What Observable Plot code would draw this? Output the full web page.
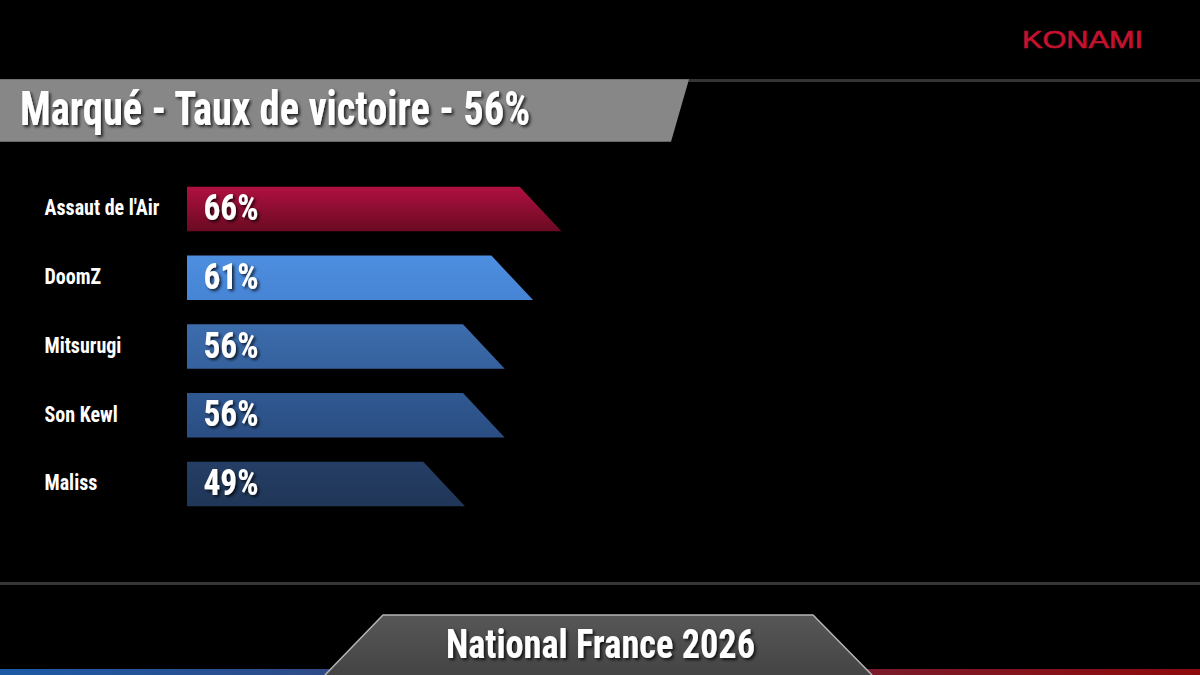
<!DOCTYPE html>
<html>
<head>
<meta charset="utf-8">
<script src="https://cdn.jsdelivr.net/npm/d3@7"></script>
<script src="https://cdn.jsdelivr.net/npm/@observablehq/plot@0.6"></script>
<style>
  html, body { margin: 0; padding: 0; background: #000; }
  #stage { position: relative; width: 1200px; height: 675px; overflow: hidden; background: #000; }
  #deco { position: absolute; left: 0; top: 0; }
  #chart { position: absolute; left: 0; top: 150px; }
  .cond { font-family: "Roboto Condensed", "Roboto", "DejaVu Sans Condensed", sans-serif; font-weight: 700; }
</style>
</head>
<body>
<div id="stage">
  <svg id="deco" width="1200" height="675" viewBox="0 0 1200 675">
    <defs>
      <linearGradient id="bar0" x1="0" y1="0" x2="0" y2="1">
        <stop offset="0" stop-color="#b01040"/>
        <stop offset="1" stop-color="#6a0a22"/>
      </linearGradient>
      <linearGradient id="bar1" x1="0" y1="0" x2="0" y2="1">
        <stop offset="0" stop-color="#4e8ee0"/>
        <stop offset="1" stop-color="#4684d4"/>
      </linearGradient>
      <linearGradient id="bar2" x1="0" y1="0" x2="0" y2="1">
        <stop offset="0" stop-color="#3d6cad"/>
        <stop offset="1" stop-color="#35629e"/>
      </linearGradient>
      <linearGradient id="bar3" x1="0" y1="0" x2="0" y2="1">
        <stop offset="0" stop-color="#305892"/>
        <stop offset="1" stop-color="#2a4e83"/>
      </linearGradient>
      <linearGradient id="bar4" x1="0" y1="0" x2="0" y2="1">
        <stop offset="0" stop-color="#253e65"/>
        <stop offset="1" stop-color="#203658"/>
      </linearGradient>
      <linearGradient id="footFill" x1="0" y1="0" x2="0" y2="1">
        <stop offset="0" stop-color="#575757"/>
        <stop offset="1" stop-color="#444444"/>
      </linearGradient>
      <linearGradient id="stripBlue" x1="0" y1="0" x2="1" y2="0">
        <stop offset="0" stop-color="#1c5aa6"/>
        <stop offset="1" stop-color="#2f4a86"/>
      </linearGradient>
      <linearGradient id="stripRed" x1="0" y1="0" x2="1" y2="0">
        <stop offset="0" stop-color="#7a1c2c"/>
        <stop offset="1" stop-color="#8e0a0c"/>
      </linearGradient>
      <filter id="shadow" x="-10%" y="-20%" width="130%" height="160%">
        <feDropShadow dx="2" dy="2" stdDeviation="1.5" flood-color="#000" flood-opacity="0.75"/>
      </filter>
    </defs>
    <!-- top separator -->
    <rect x="0" y="79" width="1200" height="3" fill="#343434"/>
    <!-- title banner -->
    <polygon points="0,79.3 689,79.3 671,141.7 0,141.7" fill="#878787"/>
    <text id="titleText" class="cond" x="20" y="125" font-size="49" fill="#fff" filter="url(#shadow)" textLength="510" lengthAdjust="spacingAndGlyphs"></text>
    <!-- logo -->
    <text id="brandText" x="1022" y="47.5" font-family="'Liberation Sans', 'DejaVu Sans', sans-serif" font-size="24" fill="#c4122f" stroke="#c4122f" stroke-width="0.6" textLength="121" lengthAdjust="spacingAndGlyphs"></text>
    <!-- bottom separator -->
    <rect x="0" y="582" width="1200" height="3" fill="#363636"/>
    <!-- bottom strips -->
    <rect x="0" y="669" width="340" height="6" fill="url(#stripBlue)"/>
    <rect x="860" y="669" width="340" height="6" fill="url(#stripRed)"/>
    <!-- footer banner -->
    <polygon points="383,615 813,615 872,675 325,675" fill="url(#footFill)"/>
    <polyline points="325,675 383,615 813,615 872,675" fill="none" stroke="#b5b5b5" stroke-width="1.5"/>
    <text id="footText" class="cond" x="600.5" y="658" text-anchor="middle" font-size="41" fill="#fff" filter="url(#shadow)" textLength="309" lengthAdjust="spacingAndGlyphs"></text>
  </svg>
  <div id="chart"></div>
</div>
<script>
// ---- data ----
const players = ["Assaut de l'Air", "DoomZ", "Mitsurugi", "Son Kewl", "Maliss"];
const winRates = [66, 61, 56, 56, 49];
const barFills = ["url(#bar0)", "url(#bar1)", "url(#bar2)", "url(#bar3)", "url(#bar4)"];
const chartTitle = "Marqué - Taux de victoire - 56%";
const eventName = "National France 2026";
const brand = "KONAMI";

document.getElementById("titleText").textContent = chartTitle;
document.getElementById("footText").textContent = eventName;
document.getElementById("brandText").textContent = brand;

const rows = players.map((name, i) => ({ name, value: winRates[i], i, fill: barFills[i] }));

// bar shape: flat top ending earlier, slanted right edge reaching the value at the bottom
const half = 0.323;     // half bar thickness (row units)
const slant = 7.35;     // horizontal run of the slanted edge (x units)
const shape = r => [
  { y: r.i - half, x2: r.value - slant },
  { y: r.i + half, x2: r.value }
];

const pxPerUnit = 5.673;
const chart = Plot.plot({
  width: 1200,
  height: 390,
  marginLeft: 187,
  marginRight: 1200 - 187 - 100 * pxPerUnit,
  marginTop: 24.6,
  marginBottom: 21.6,
  x: { domain: [0, 100], axis: null },
  y: { domain: [-0.5, 4.5], reverse: true, axis: null },
  style: { background: "transparent", overflow: "visible", fontFamily: "'Roboto Condensed', Roboto, 'DejaVu Sans Condensed', sans-serif" },
  marks: [
    ...rows.map(r => Plot.areaX(shape(r), { x1: () => 0, x2: "x2", y: "y", fill: r.fill, curve: "linear" })),
    Plot.text(rows, { x: () => 0, y: "i", text: "name", dx: -143, dy: -1, textAnchor: "start", fill: "white", fontSize: 21.5, fontWeight: 700 }),
    Plot.text(rows, { x: () => 0, y: "i", text: d => d.value + "%", dx: 16, dy: -1, textAnchor: "start", fill: "white", fontSize: 36, fontWeight: 700 })
  ]
});
document.getElementById("chart").appendChild(chart);

// condense bold text to the narrow look of the original
function condense(nodes, firstTarget) {
  if (!nodes.length) return;
  const w0 = nodes[0].getComputedTextLength();
  if (!(w0 > 0)) return;
  const k = firstTarget / w0;
  nodes.forEach(n => {
    const w = n.getComputedTextLength();
    n.setAttribute("textLength", (w * k).toFixed(2));
    n.setAttribute("lengthAdjust", "spacingAndGlyphs");
  });
}
const allText = Array.from(chart.querySelectorAll("text"));
const nameNodes = allText.filter(n => players.includes(n.textContent));
const valueNodes = allText.filter(n => !players.includes(n.textContent));
condense(nameNodes, 115);
condense(valueNodes, 55);
valueNodes.forEach(n => n.setAttribute("filter", "url(#shadow)"));
</script>
</body>
</html>
